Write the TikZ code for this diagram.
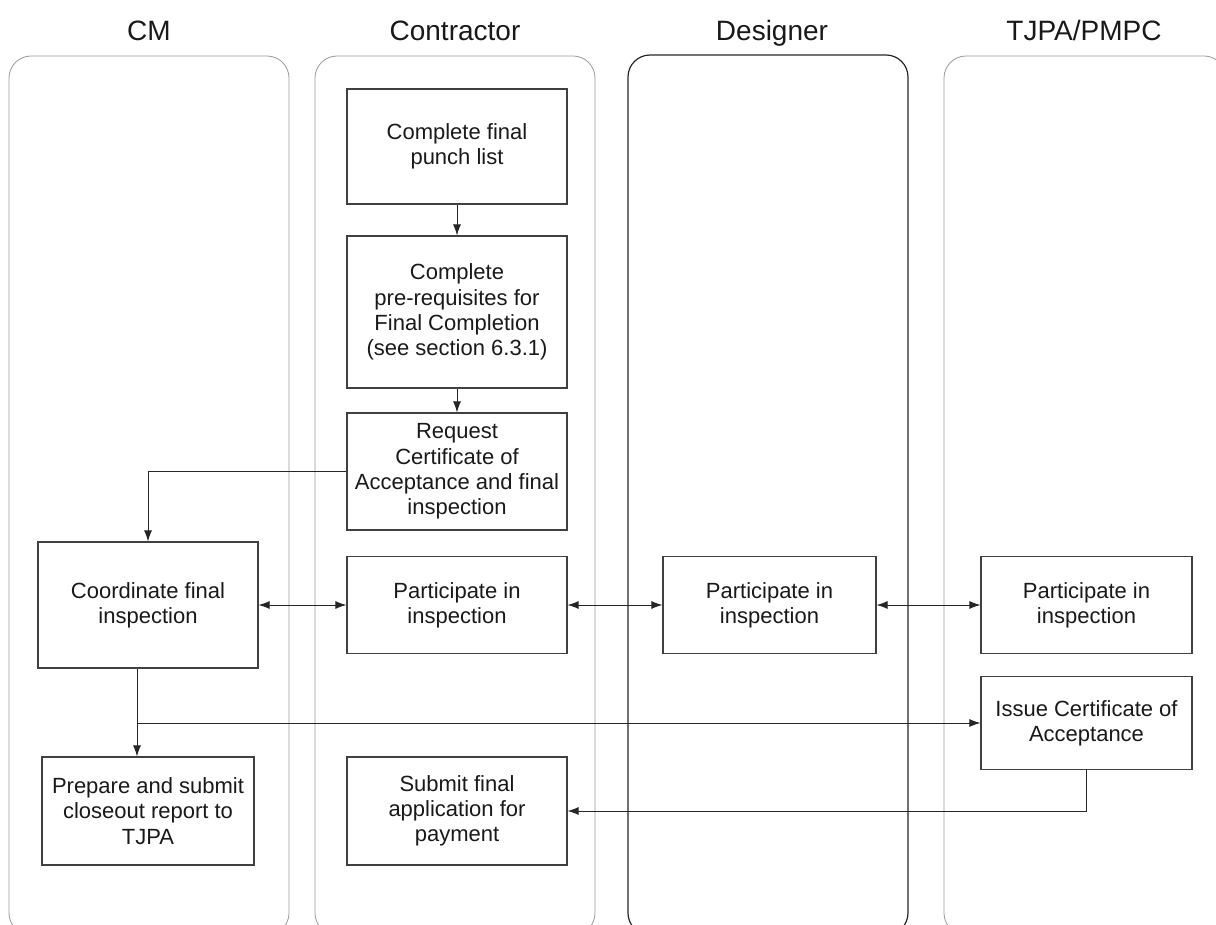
\documentclass[tikz,border=0pt]{standalone}
\usepackage{fontspec}
\setmainfont{Liberation Sans}
\usetikzlibrary{arrows.meta}
\begin{document}
\begin{tikzpicture}[x=1pt,y=-1pt,
  lane/.style={draw=black!40, line width=0.8pt, rounded corners=22pt},
  darklane/.style={draw=black!85, line width=1.2pt, rounded corners=22pt},
  title/.style={font=\fontsize{28}{32}\selectfont, anchor=base, text=black!90},
  task/.style={draw=black!75, line width=1.1pt, align=center, inner sep=2pt,
    font=\fontsize{22}{25.3}\selectfont, text=black!90},
  flow/.style={draw=black!85, line width=1pt, -{Latex[length=11pt,width=8pt]}},
  both/.style={draw=black!85, line width=1pt,
    {Latex[length=11pt,width=8pt]}-{Latex[length=11pt,width=8pt]}}]

\useasboundingbox (0,0) rectangle (1216,925);
\clip (0,0) rectangle (1216,925);

% swimlanes
\draw[lane] (9,56) rectangle (289,935);
\draw[lane] (315,56) rectangle (595,935);
\draw[darklane] (628,55) rectangle (908,935);
\draw[lane] (944,56) rectangle (1226,935);

% lane titles
\node[title] (tcm)   at (149,41) {CM};
\node[title] (tcon)  at (455,41) {Contractor};
\node[title] (tdes)  at (772,41) {Designer};
\node[title] (ttjpa) at (1084,41) {TJPA/PMPC};

% contractor column
\node[task, minimum width=220, minimum height=115] (b1) at (457,146.5)
  {Complete final\\punch list};
\node[task, minimum width=220, minimum height=152] (b2) at (457,312)
  {Complete\\pre-requisites for\\Final Completion\\(see section 6.3.1)};
\node[task, minimum width=220, minimum height=117] (b3) at (457,471.5)
  {Request\\Certificate of\\Acceptance and final\\inspection};

% inspection row
\node[task, minimum width=220, minimum height=126] (coord) at (148,605)
  {Coordinate final\\inspection};
\node[task, minimum width=220, minimum height=97] (cpart) at (457,605)
  {Participate in\\inspection};
\node[task, minimum width=213, minimum height=97] (dpart) at (769.5,605)
  {Participate in\\inspection};
\node[task, minimum width=211, minimum height=97] (tpart) at (1086.5,605)
  {Participate in\\inspection};

% certificate and closeout
\node[task, minimum width=211, minimum height=93] (issue) at (1086.5,723)
  {Issue Certificate of\\Acceptance};
\node[task, minimum width=212, minimum height=108] (prep) at (148,811)
  {Prepare and submit\\closeout report to\\TJPA};
\node[task, minimum width=220, minimum height=108] (submit) at (457,811)
  {Submit final\\application for\\payment};

\coordinate (split) at (137,723);

% connectors
\draw[flow] (b1.south) -- (b2.north);
\draw[flow] (b2.south) -- (b3.north);
\draw[flow] (b3.west) -| (coord.north);
\draw[both] (coord.east) -- (cpart.west);
\draw[both] (cpart.east) -- (dpart.west);
\draw[both] (dpart.east) -- (tpart.west);
\draw[flow] ([xshift=-11pt]coord.south) -- ([xshift=-11pt]prep.north);
\draw[flow] (split) -- (issue.west);
\draw[flow] (issue.south) |- (submit.east);
\end{tikzpicture}
\end{document}
